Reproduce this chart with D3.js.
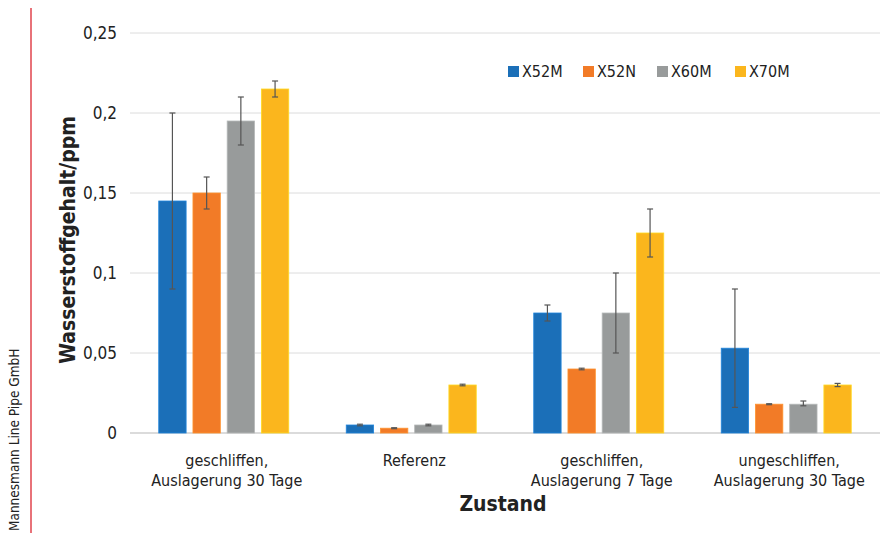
<!DOCTYPE html>
<html>
<head>
<meta charset="utf-8">
<script src="https://cdn.jsdelivr.net/npm/d3@7"></script>
<style>
  body { margin: 0; background: #fff; }
  svg { display: block; }
  text { font-family: "DejaVu Sans", sans-serif; font-stretch: condensed; fill: #222; }
</style>
</head>
<body>
<svg width="880" height="533"></svg>
<script>
// Daten
const zustaende = [["geschliffen,", "Auslagerung 30 Tage"], ["Referenz"], ["geschliffen,", "Auslagerung 7 Tage"], ["ungeschliffen,", "Auslagerung 30 Tage"]];
const serien = ["X52M", "X52N", "X60M", "X70M"];
const farben = ["#1b6fb8", "#f27b27", "#989b9b", "#fbb61d"];
const werte = [
  [0.145, 0.005, 0.075, 0.053],
  [0.150, 0.003, 0.040, 0.018],
  [0.195, 0.005, 0.075, 0.018],
  [0.215, 0.030, 0.125, 0.030]
];
const fehlerOben = [
  [0.200, 0.0055, 0.080, 0.090],
  [0.160, 0.0033, 0.0405, 0.0183],
  [0.210, 0.0055, 0.100, 0.020],
  [0.220, 0.0305, 0.140, 0.031]
];
const fehlerUnten = [
  [0.090, 0.0045, 0.070, 0.016],
  [0.140, 0.0027, 0.0395, 0.0177],
  [0.180, 0.0045, 0.050, 0.017],
  [0.210, 0.0295, 0.110, 0.029]
];
const yTicks = [0, 0.05, 0.1, 0.15, 0.2, 0.25];

const svg = d3.select("svg");
const m = { left: 130, right: 880, top: 33, bottom: 433 };

const x = d3.scaleBand().domain(d3.range(zustaende.length)).range([m.left, m.right]);
const xs = d3.scaleBand().domain(d3.range(serien.length)).range([0, x.bandwidth()]).paddingInner(0.2).paddingOuter(0.84);
const y = d3.scaleLinear().domain([0, 0.25]).range([m.bottom, m.top]);

// Rote Linie + Copyright
svg.append("line").attr("x1", 31).attr("x2", 31).attr("y1", 8).attr("y2", 533)
  .attr("stroke", "#e0434d").attr("stroke-width", 1.5);
svg.append("text")
  .attr("transform", "translate(19,531) rotate(-90)")
  .attr("font-size", 13.5).attr("fill", "#333")
  .text("Mannesmann Line Pipe GmbH");

// Gitter
svg.append("g").selectAll("line").data(yTicks).join("line")
  .attr("x1", m.left).attr("x2", m.right)
  .attr("y1", d => y(d)).attr("y2", d => y(d))
  .attr("stroke", d => d === 0 ? "#cfcfcf" : "#dcdcdc").attr("stroke-width", d => d === 0 ? 1.5 : 1);

// Y-Achse
svg.append("g").selectAll("text").data(yTicks).join("text")
  .attr("x", 117).attr("y", d => y(d)).attr("dy", "0.35em")
  .attr("text-anchor", "end").attr("font-size", 17)
  .text(d => d3.format(",.2~f")(d).replace(".", ","));

svg.append("text")
  .attr("transform", `translate(75,${(m.top + m.bottom) / 2 + 7}) rotate(-90)`)
  .attr("text-anchor", "middle").attr("font-size", 21).attr("font-weight", "bold")
  .text("Wasserstoffgehalt/ppm");

// Balken
const gruppen = svg.append("g").selectAll("g").data(serien).join("g");
gruppen.selectAll("rect").data((s, i) => werte[i].map((v, j) => ({ v, j, i }))).join("rect")
  .attr("x", d => x(d.j) + xs(d.i))
  .attr("width", xs.bandwidth())
  .attr("y", d => y(d.v))
  .attr("height", d => y(0) - y(d.v))
  .attr("fill", d => farben[d.i])
  .attr("stroke", d => d3.color(farben[d.i]).brighter(0.5))
  .attr("stroke-width", 0.8);

// Fehlerbalken
const fehler = [];
serien.forEach((s, i) => werte[i].forEach((v, j) => fehler.push({ i, j, o: fehlerOben[i][j], u: fehlerUnten[i][j] })));
const fb = svg.append("g").attr("stroke", "#555").attr("stroke-width", 1.2);
fb.selectAll("g").data(fehler).join("g").each(function (d) {
  const cx = x(d.j) + xs(d.i) + xs.bandwidth() / 2;
  const g = d3.select(this);
  g.append("line").attr("x1", cx).attr("x2", cx).attr("y1", y(d.o)).attr("y2", y(d.u));
  g.append("line").attr("x1", cx - 3).attr("x2", cx + 3).attr("y1", y(d.o)).attr("y2", y(d.o));
  g.append("line").attr("x1", cx - 3).attr("x2", cx + 3).attr("y1", y(d.u)).attr("y2", y(d.u));
});

// X-Beschriftung
svg.append("g").selectAll("text").data(zustaende).join("text")
  .attr("x", (d, j) => x(j) + x.bandwidth() / 2 + 3)
  .attr("y", 466).attr("text-anchor", "middle").attr("font-size", 16)
  .selectAll("tspan").data(d => d).join("tspan")
  .attr("x", function () { return this.parentNode.getAttribute("x"); })
  .attr("dy", (d, k) => k === 0 ? 0 : 20)
  .text(d => d);

svg.append("text").attr("x", 503).attr("y", 511).attr("text-anchor", "middle")
  .attr("font-size", 21).attr("font-weight", "bold").text("Zustand");

// Legende
const lx = [508, 583, 657, 735];
const leg = svg.append("g").selectAll("g").data(serien).join("g")
  .attr("transform", (d, i) => `translate(${lx[i]},66)`);
leg.append("rect").attr("width", 11).attr("height", 11).attr("fill", (d, i) => farben[i]);
leg.append("text").attr("x", 14).attr("y", 5.5).attr("dy", "0.35em").attr("font-size", 16).text(d => d);
</script>
</body>
</html>
